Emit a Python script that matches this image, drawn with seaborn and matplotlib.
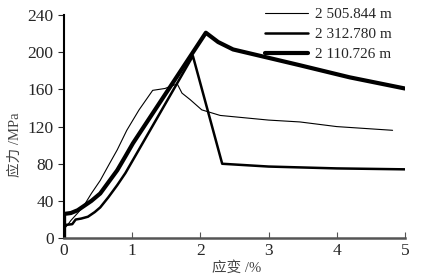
import pandas as pd
import matplotlib
matplotlib.use("Agg")
import matplotlib.pyplot as plt
import seaborn as sns

# strain (%) / stress (MPa) for the three depths
thin_x = [0, 0, 0.05, 0.1, 0.2, 0.3, 0.4, 0.53, 0.65, 0.78, 0.92, 1.1, 1.3, 1.48, 1.66, 1.73, 1.85, 2.02, 2.29, 3.0, 3.46, 4.0, 4.82]
thin_y = [0, 10, 14, 19, 27, 36, 48, 62, 78, 95, 116, 138, 159, 161, 166, 156, 149, 138, 132, 127, 125, 120, 116]

mid_x = [0, 0, 0.12, 0.14, 0.17, 0.25, 0.35, 0.45, 0.53, 0.65, 0.78, 0.9, 1.01, 1.89, 2.32, 3.0, 4.0, 5.0]
mid_y = [0, 14, 15, 17, 20, 21, 23, 28, 33, 44, 57, 70, 84, 196, 80, 77, 75, 74]

thick_x = [0, 0, 0.1, 0.2, 0.3, 0.4, 0.53, 0.65, 0.78, 0.9, 1.01, 2.08, 2.26, 2.48, 3.0, 3.46, 4.19, 5.0]
thick_y = [0, 26, 27, 30, 35, 40, 48, 60, 73, 88, 102, 221, 211, 203, 194, 186, 173, 161]

labels = ["2 505.844 m", "2 312.780 m", "2 110.726 m"]
widths = [0.8, 1.8, 3.0]

sns.set_style("ticks")
plt.rcParams["font.family"] = ["Liberation Serif", "Noto Sans CJK SC"]

fig = plt.figure(figsize=(4.33, 2.74), dpi=100)
ax = fig.add_axes([0.148, 0.131, 0.787, 0.814])

for xs, ys, lab, lw in zip([thin_x, mid_x, thick_x], [thin_y, mid_y, thick_y], labels, widths):
    df = pd.DataFrame({"strain": xs, "stress": ys})
    sns.lineplot(data=df, x="strain", y="stress", sort=False, estimator=None,
                 color="black", linewidth=lw, label=lab, ax=ax)

ax.set_xlim(0, 5)
ax.set_ylim(0, 240)
ax.set_xticks([0, 1, 2, 3, 4, 5])
ax.set_yticks([0, 40, 80, 120, 160, 200, 240])
ax.set_xlabel("应变 /%", fontsize=10.5, color="#444444")
ax.set_ylabel("应力 /MPa", fontsize=10.5, color="#444444")
ax.xaxis.set_label_coords(0.507, -0.105)
ax.yaxis.set_label_coords(-0.125, 0.42)
ax.tick_params(axis="x", direction="in", labelsize=12.5, length=4, color="#555555")
ax.tick_params(axis="y", direction="out", labelsize=12.5, length=4)

sns.despine(ax=ax)
ax.spines["left"].set_color("black")
ax.spines["left"].set_linewidth(1.5)
ax.spines["bottom"].set_color("#555555")
ax.spines["bottom"].set_linewidth(1.8)

ax.legend(loc="upper right", frameon=False, fontsize=11, handlelength=2.8,
          handletextpad=0.5, borderaxespad=0.0, labelspacing=0.4,
          bbox_to_anchor=(0.98, 1.06))

fig.savefig("out.png", dpi=100)
